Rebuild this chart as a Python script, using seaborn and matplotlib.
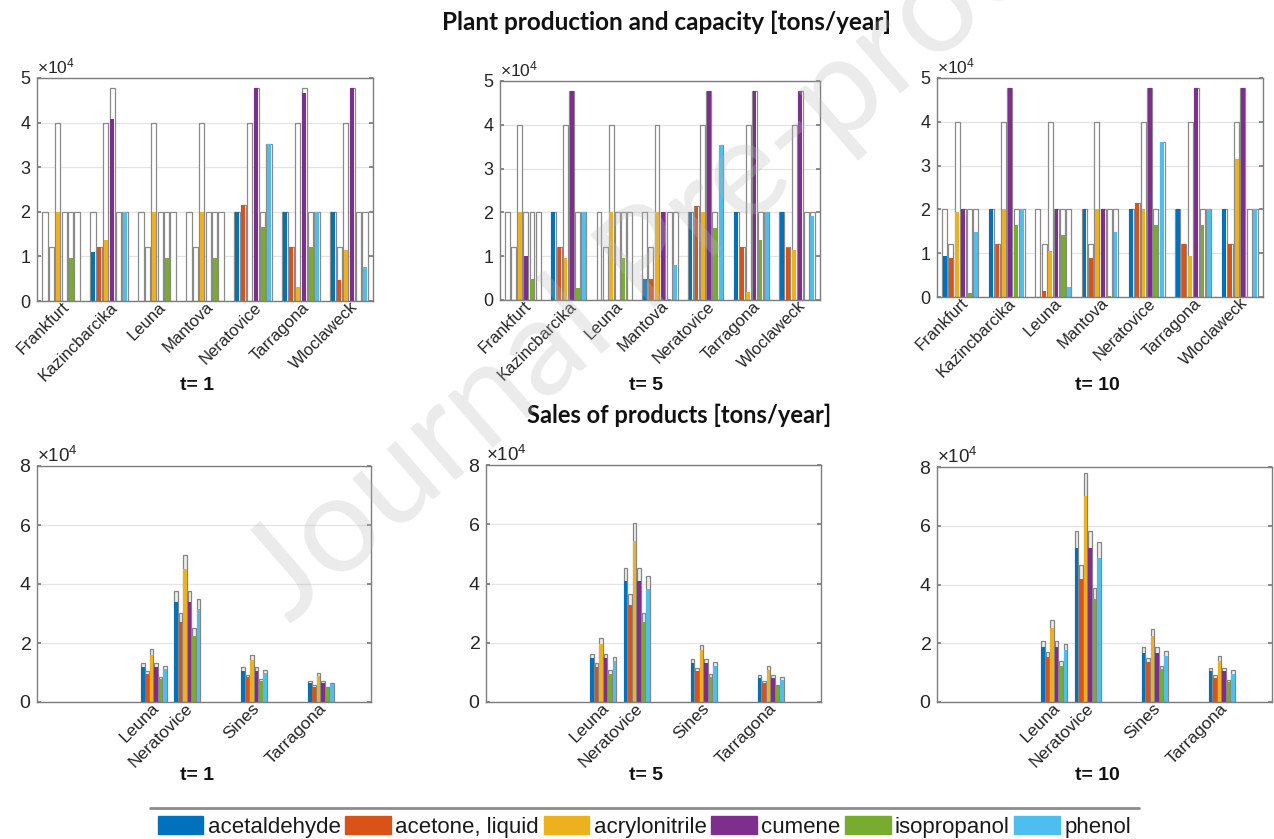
import matplotlib
matplotlib.use("Agg")
import matplotlib.pyplot as plt
import matplotlib.ticker as mticker
import matplotlib.transforms as mtransforms
from matplotlib.patches import Patch
from matplotlib.lines import Line2D
import pandas as pd
import seaborn as sns

# ---------------------------------------------------------------- data
products = ["acetaldehyde", "acetone, liquid", "acrylonitrile", "cumene", "isopropanol", "phenol"]
colors = ["#0072BD", "#D95319", "#EDB120", "#7E2F8E", "#77AC30", "#4DBEEE"]
plants = ["Frankfurt", "Kazincbarcika", "Leuna", "Mantova", "Neratovice", "Tarragona", "Wloclaweck"]
periods = ["t= 1", "t= 5", "t= 10"]

UNIT = 1e4  # all figures below are given in 10^4 tons/year

# installed capacity, one row per plant, one column per product
capacity = [
    [2.00, 1.22, 4.00, 2.00, 2.00, 2.00],
    [2.00, 1.22, 4.00, 4.78, 2.00, 2.00],
    [2.00, 1.22, 4.00, 2.00, 2.00, 2.00],
    [2.00, 1.22, 4.00, 2.00, 2.00, 2.00],
    [2.00, 2.15, 4.00, 4.78, 2.00, 3.53],
    [2.00, 1.22, 4.00, 4.78, 2.00, 2.00],
    [2.00, 1.22, 4.00, 4.78, 2.00, 2.00],
]

production_t1 = [
    [0.00, 0.00, 2.00, 0.00, 0.96, 0.00],
    [1.09, 1.22, 1.37, 4.08, 0.00, 2.00],
    [0.00, 0.00, 2.00, 0.00, 0.96, 0.00],
    [0.00, 0.00, 2.00, 0.00, 0.96, 0.00],
    [2.00, 2.15, 0.00, 4.78, 1.65, 3.53],
    [2.00, 1.22, 0.32, 4.66, 1.22, 2.00],
    [2.00, 0.47, 1.15, 4.78, 0.00, 0.77],
]
production_t5 = [
    [0.00, 0.00, 2.00, 1.01, 0.48, 0.00],
    [2.00, 1.22, 0.95, 4.78, 0.27, 2.00],
    [0.00, 0.00, 2.00, 0.00, 0.95, 0.00],
    [0.47, 0.47, 2.00, 2.00, 0.03, 0.79],
    [2.00, 2.15, 2.00, 4.78, 1.65, 3.53],
    [2.00, 1.22, 0.19, 4.78, 1.37, 2.00],
    [2.00, 1.18, 1.15, 4.78, 0.00, 1.92],
]
production_t10 = [
    [0.93, 0.90, 1.95, 2.00, 0.08, 1.48],
    [2.00, 1.22, 2.00, 4.78, 1.65, 2.00],
    [0.00, 0.14, 1.06, 2.00, 1.42, 0.22],
    [2.00, 0.90, 2.00, 2.00, 0.03, 1.48],
    [2.00, 2.15, 2.00, 4.78, 1.65, 3.53],
    [2.00, 1.22, 0.94, 4.78, 1.65, 2.00],
    [2.00, 1.22, 3.15, 4.78, 0.00, 2.00],
]

# market slots on the sales axis; only four of them have any sales
market_slots = ["", "", "", "Leuna", "Neratovice", "", "Sines", "", "Tarragona", ""]
markets = ["Leuna", "Neratovice", "Sines", "Tarragona"]

demand_t1 = [
    [1.33, 1.05, 1.78, 1.33, 0.86, 1.23],
    [3.75, 3.02, 5.00, 3.75, 2.50, 3.50],
    [1.17, 0.93, 1.59, 1.17, 0.78, 1.09],
    [0.70, 0.56, 0.97, 0.70, 0.50, 0.66],
]
sales_t1 = [
    [1.20, 0.95, 1.60, 1.20, 0.77, 1.11],
    [3.38, 2.72, 4.50, 3.38, 2.25, 3.15],
    [1.05, 0.84, 1.43, 1.05, 0.70, 0.98],
    [0.63, 0.50, 0.87, 0.63, 0.46, 0.60],
]
demand_t5 = [
    [1.63, 1.30, 2.17, 1.63, 1.07, 1.52],
    [4.53, 3.63, 6.04, 4.53, 3.01, 4.25],
    [1.45, 1.15, 1.94, 1.45, 0.96, 1.35],
    [0.90, 0.71, 1.20, 0.90, 0.59, 0.83],
]
sales_t5 = [
    [1.47, 1.17, 1.95, 1.47, 0.96, 1.37],
    [4.08, 3.27, 5.44, 4.08, 2.71, 3.83],
    [1.31, 1.04, 1.75, 1.31, 0.86, 1.22],
    [0.81, 0.64, 1.08, 0.81, 0.53, 0.75],
]
demand_t10 = [
    [2.09, 1.69, 2.80, 2.09, 1.38, 1.96],
    [5.81, 4.65, 7.80, 5.81, 3.88, 5.46],
    [1.86, 1.50, 2.50, 1.86, 1.24, 1.75],
    [1.15, 0.91, 1.55, 1.15, 0.76, 1.08],
]
sales_t10 = [
    [1.88, 1.52, 2.52, 1.88, 1.24, 1.76],
    [5.23, 4.19, 7.02, 5.23, 3.49, 4.91],
    [1.67, 1.35, 2.25, 1.67, 1.12, 1.58],
    [1.04, 0.82, 1.40, 1.04, 0.68, 0.97],
]

production = [production_t1, production_t5, production_t10]
demand = [demand_t1, demand_t5, demand_t10]
sales = [sales_t1, sales_t5, sales_t10]


def long_frame(sites, table):
    rows = [(site, prod, v * UNIT)
            for site, vals in zip(sites, table)
            for prod, v in zip(products, vals)]
    return pd.DataFrame(rows, columns=["site", "product", "value"])


# ---------------------------------------------------------------- style
sns.set_theme(style="white")
plt.rcParams["font.family"] = ["Liberation Sans", "DejaVu Sans"]
plt.rcParams["mathtext.fontset"] = "custom"
plt.rcParams["mathtext.rm"] = "Liberation Sans"
plt.rcParams["mathtext.default"] = "regular"

FRAME = "#7d7d7d"
TEXT = "#262626"
GRID = "#e4e4e4"

W, H = 1274, 839
fig = plt.figure(figsize=(W / 100, H / 100), dpi=100)


def axes_px(left, top, right, bottom):
    return fig.add_axes([left / W, 1 - bottom / H, (right - left) / W, (bottom - top) / H])


top_boxes = [(37, 78, 373, 301), (500, 81, 820, 300), (937, 78, 1263, 297)]
bottom_boxes = [(37, 466, 371, 702), (486, 465, 821, 702), (937, 467, 1272, 702)]
label_x = [197, 646, 1097]


def style_axes(ax, ymax, ystep, ysize, xsize):
    ax.set_ylim(0, ymax * UNIT)
    ax.yaxis.set_major_locator(mticker.MultipleLocator(ystep * UNIT))
    fmt = mticker.ScalarFormatter(useMathText=True)
    fmt.set_powerlimits((0, 0))
    ax.yaxis.set_major_formatter(fmt)
    ax.yaxis.get_offset_text().set_fontsize(ysize - 0.5)
    ax.yaxis.get_offset_text().set_color("#555555")
    ax.set_xlabel("")
    ax.set_ylabel("")
    ax.grid(axis="y", color=GRID, linewidth=0.9)
    ax.grid(axis="x", visible=False)
    ax.set_axisbelow(True)
    for sp in ax.spines.values():
        sp.set_visible(True)
        sp.set_color(FRAME)
        sp.set_linewidth(1.0)
    ax.tick_params(axis="y", direction="in", length=3, left=True, right=True,
                   color=FRAME, labelsize=ysize, labelcolor=TEXT, pad=4)
    ax.tick_params(axis="x", direction="in", length=0, labelsize=xsize,
                   labelcolor=TEXT, pad=2)


def rotated_labels(ax, ticks, labels, shift_px):
    ax.set_xticks(ticks)
    ax.set_xticklabels(labels, rotation=45, ha="right", va="center", rotation_mode="anchor")
    nudge = mtransforms.ScaledTranslation(shift_px / 100, -1 / 100, fig.dpi_scale_trans)
    for lbl in ax.get_xticklabels():
        lbl.set_transform(lbl.get_transform() + nudge)


# ---------------------------------------------------------------- production vs capacity
cap_df = long_frame(plants, capacity)
for (box, prod_table, lab, lx) in zip(top_boxes, production, periods, label_x):
    ax = axes_px(*box)
    sns.barplot(data=cap_df, x="site", y="value", hue="product", order=plants,
                hue_order=products, palette=["white"] * len(products), saturation=1,
                width=0.8, gap=0.2, errorbar=None, edgecolor="#8a8a8a",
                linewidth=0.9, legend=False, ax=ax)
    sns.barplot(data=long_frame(plants, prod_table), x="site", y="value", hue="product",
                order=plants, hue_order=products, palette=colors, saturation=1,
                width=0.8, gap=0.38, errorbar=None, edgecolor="none", linewidth=0,
                legend=False, ax=ax)
    ax.set_xlim(-0.5, len(plants) - 0.5)
    style_axes(ax, 5, 1, 13, 12)
    rotated_labels(ax, range(len(plants)), plants, 6)
    fig.text(lx / W, 1 - 385 / H, lab, ha="center", va="center",
             fontsize=14, fontweight="bold", color="#111111")

# ---------------------------------------------------------------- sales vs demand
slot_keys = [name if name else f"slot{i}" for i, name in enumerate(market_slots)]
for (box, dem_table, sal_table, lab, lx) in zip(bottom_boxes, demand, sales, periods, label_x):
    ax = axes_px(*box)
    sns.barplot(data=long_frame(markets, dem_table), x="site", y="value", hue="product",
                order=slot_keys, hue_order=products, palette=["#ececec"] * len(products),
                saturation=1, width=0.8, gap=0.18, errorbar=None, edgecolor="#858585",
                linewidth=0.9, legend=False, ax=ax)
    sns.barplot(data=long_frame(markets, sal_table), x="site", y="value", hue="product",
                order=slot_keys, hue_order=products, palette=colors, saturation=1,
                width=0.8, gap=0.18, errorbar=None, edgecolor="none", linewidth=0,
                legend=False, ax=ax)
    ax.set_xlim(-0.5, len(market_slots) - 0.5)
    style_axes(ax, 8, 2, 14, 12.5)
    ticks = [i for i, name in enumerate(market_slots) if name]
    rotated_labels(ax, ticks, [market_slots[i] for i in ticks], 3)
    fig.text(lx / W, 1 - 776 / H, lab, ha="center", va="center",
             fontsize=14, fontweight="bold", color="#111111")

# ---------------------------------------------------------------- headings
fig.text(667 / W, 1 - 22 / H, "Plant production and capacity [tons/year]",
         ha="center", va="center", fontsize=17.5, fontweight="bold",
         family=["Lato", "DejaVu Sans"], color="#111111")
fig.text(679 / W, 1 - 415 / H, "Sales of products [tons/year]",
         ha="center", va="center", fontsize=17, fontweight="bold",
         family=["Lato", "DejaVu Sans"], color="#111111")

# ---------------------------------------------------------------- legend
handles = [Patch(facecolor=c, edgecolor=c, label=p) for c, p in zip(colors, products)]
fig.legend(handles=handles, loc="upper left",
           bbox_to_anchor=(150 / W, 1 - 808 / H, 989 / W, 0), mode="expand",
           borderaxespad=0, ncol=6, fontsize=16, handlelength=2.05, handleheight=0.9,
           handletextpad=0.2, columnspacing=0.4, borderpad=0.35, frameon=False,
           labelcolor="#1a1a1a")
fig.add_artist(Line2D([150 / W, 1139 / W], [1 - 808 / H, 1 - 808 / H],
                      transform=fig.transFigure, color="#8c8c8c", linewidth=2.0))

# ---------------------------------------------------------------- watermark
fig.text(662 / W, 1 - 250 / H, "Journal Pre-proof", rotation=41, ha="center", va="center",
         fontsize=98, family=["Lato", "DejaVu Sans"], color="#b8b8b8", alpha=0.28,
         zorder=20)

fig.savefig("out.png", dpi=100)
